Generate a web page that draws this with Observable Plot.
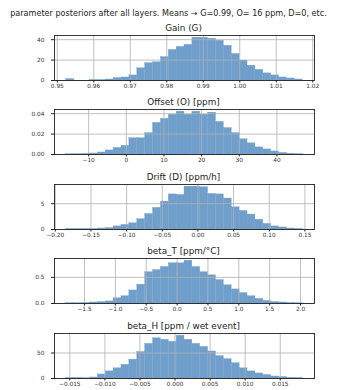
<!DOCTYPE html>
<html><head><meta charset="utf-8">
<script src="https://cdn.jsdelivr.net/npm/d3@7"></script>
<script src="https://cdn.jsdelivr.net/npm/@observablehq/plot@0.6"></script>
<style>
body{margin:0;background:#fff;font-family:"DejaVu Sans",sans-serif;}
#root{position:relative;width:337px;height:390px;overflow:hidden;background:#fff}
.t{position:absolute;left:0;width:337px;text-align:center;white-space:nowrap;color:#222;font-weight:normal;line-height:1;transform:translateY(-50%)}
#root svg{position:absolute;left:0}
</style></head><body><div id="root"></div>
<script>
// ---- data ----
const mainTitle = "parameter posteriors after all layers. Means \u2192 G=0.99, O= 16 ppm, D=0, etc.";
const panelTitles = ["Gain (G)", "Offset (O) [ppm]", "Drift (D) [ppm/h]", "beta_T [ppm/\u00B0C]", "beta_H [ppm / wet event]"];

// histogram ranges (first bin left edge, last bin right edge), 30 bins each
const gainRange = [0.95247, 1.01725];
const offsetRange = [-15.93, 46.84];
const driftRange = [-0.1846, 0.1469];
const betaTRange = [-1.795, 2.035];
const betaHRange = [-0.0155, 0.0182];

// density heights per bin
const gainHeights = [1.5, 0, 0, 0.5, 0.5, 1, 2.5, 3, 5, 12, 17, 18, 23, 30, 33, 35, 42, 42, 41, 39, 34, 26, 19.5, 14.5, 10.5, 7, 5, 3, 2, 1];
const offsetHeights = [0.0002, 0.0003, 0.0006, 0.001, 0.002, 0.004, 0.0065, 0.0085, 0.016, 0.016, 0.021, 0.031, 0.035, 0.039, 0.042, 0.039, 0.042, 0.039, 0.041, 0.032, 0.026, 0.021, 0.015, 0.011, 0.007, 0.005, 0.003, 0.0016, 0.0008, 0.0003];
const driftHeights = [0.1, 0.1, 0.1, 0.1, 0.2, 0.3, 0.6, 0.9, 1.2, 2.0, 3.0, 4.2, 5.4, 6.8, 6.7, 8.3, 8.3, 8.2, 6.9, 6.8, 6.0, 4.3, 3.6, 2.9, 1.9, 1.1, 0.6, 0.4, 0.2, 0.1];
const betaTHeights = [0.005, 0.005, 0.01, 0.02, 0.03, 0.04, 0.1, 0.14, 0.25, 0.36, 0.6, 0.64, 0.7, 0.77, 0.77, 0.82, 0.7, 0.6, 0.54, 0.45, 0.35, 0.27, 0.2, 0.14, 0.09, 0.05, 0.03, 0.02, 0.01, 0.005];
const betaHHeights = [1, 1, 0.5, 2, 8, 14, 20, 27, 37, 52, 68, 79, 76, 72, 84, 76, 68, 62, 53, 44, 38, 30, 20, 14, 10, 7, 4, 3, 1.5, 1];

// tick values and labels
const gainXTicks = [0.95, 0.96, 0.97, 0.98, 0.99, 1.00, 1.01, 1.02];
const gainXLabels = ["0.95", "0.96", "0.97", "0.98", "0.99", "1.00", "1.01", "1.02"];
const gainYTicks = [0, 20, 40];
const gainYLabels = ["0", "20", "40"];

const offsetXTicks = [-10, 0, 10, 20, 30, 40];
const offsetXLabels = ["\u221210", "0", "10", "20", "30", "40"];
const offsetYTicks = [0, 0.02, 0.04];
const offsetYLabels = ["0.00", "0.02", "0.04"];

const driftXTicks = [-0.20, -0.15, -0.10, -0.05, 0.00, 0.05, 0.10, 0.15];
const driftXLabels = ["\u22120.20", "\u22120.15", "\u22120.10", "\u22120.05", "0.00", "0.05", "0.10", "0.15"];
const driftYTicks = [0, 5];
const driftYLabels = ["0", "5"];

const betaTXTicks = [-1.5, -1.0, -0.5, 0.0, 0.5, 1.0, 1.5, 2.0];
const betaTXLabels = ["\u22121.5", "\u22121.0", "\u22120.5", "0.0", "0.5", "1.0", "1.5", "2.0"];
const betaTYTicks = [0, 0.5];
const betaTYLabels = ["0.0", "0.5"];

const betaHXTicks = [-0.015, -0.010, -0.005, 0.000, 0.005, 0.010, 0.015];
const betaHXLabels = ["\u22120.015", "\u22120.010", "\u22120.005", "0.000", "0.005", "0.010", "0.015"];
const betaHYTicks = [0, 50];
const betaHYLabels = ["0", "50"];

// ---- layout / style ----
const W = 337, ML = 54, MR = 23, MT = 2, MB = 22, FH = 45;
const frameTops = [35, 109, 184, 258, 333];
const barColor = "#719fcb";
const gridColor = "#b0b0b0";
const ink = "#222";

const panels = [
  {range: gainRange, h: gainHeights, xt: gainXTicks, xl: gainXLabels, yt: gainYTicks, yl: gainYLabels},
  {range: offsetRange, h: offsetHeights, xt: offsetXTicks, xl: offsetXLabels, yt: offsetYTicks, yl: offsetYLabels},
  {range: driftRange, h: driftHeights, xt: driftXTicks, xl: driftXLabels, yt: driftYTicks, yl: driftYLabels},
  {range: betaTRange, h: betaTHeights, xt: betaTXTicks, xl: betaTXLabels, yt: betaTYTicks, yl: betaTYLabels},
  {range: betaHRange, h: betaHHeights, xt: betaHXTicks, xl: betaHXLabels, yt: betaHYTicks, yl: betaHYLabels}
];

const root = document.getElementById("root");
function addText(str, cy, size) {
  const d = document.createElement("div");
  d.className = "t";
  d.style.top = cy + "px";
  d.style.fontSize = size + "px";
  d.textContent = str;
  root.appendChild(d);
  return d;
}
const mt = addText(mainTitle, 13, 8.1);
mt.style.left = "6px";
mt.style.width = "325px";

panels.forEach((p, idx) => {
  const [lo, hi] = p.range;
  const n = p.h.length;
  const step = (hi - lo) / n;
  const bins = p.h.map((v, i) => ({x1: lo + i * step, x2: lo + (i + 1) * step, h: v}));
  const pad = 0.05 * (hi - lo);
  const ymax = d3.max(p.h) * 1.05;
  const xlab = new Map(p.xt.map((t, i) => [t, p.xl[i]]));
  const ylab = new Map(p.yt.map((t, i) => [t, p.yl[i]]));
  const svg = Plot.plot({
    width: W, height: MT + FH + MB,
    marginLeft: ML, marginRight: MR, marginTop: MT, marginBottom: MB,
    style: {fontFamily: "DejaVu Sans, sans-serif", fontSize: "5.8px", background: "transparent", overflow: "visible", color: ink},
    x: {domain: [lo - pad, hi + pad]},
    y: {domain: [0, ymax]},
    marks: [
      Plot.rectY(bins, {x1: "x1", x2: "x2", y: "h", fill: barColor, stroke: barColor, strokeWidth: 0.3, inset: 0}),
      Plot.gridX(p.xt, {stroke: gridColor, strokeOpacity: 1, strokeWidth: 0.8}),
      Plot.gridY(p.yt, {stroke: gridColor, strokeOpacity: 1, strokeWidth: 0.8}),
      Plot.frame({stroke: ink, strokeWidth: 0.9}),
      Plot.axisX(p.xt, {tickSize: 2.5, tickPadding: 1.2, tickFormat: d => xlab.get(d), label: null, fontSize: 5.8, stroke: ink, fill: "#333"}),
      Plot.axisY(p.yt, {tickSize: 3, tickPadding: 7, tickFormat: d => ylab.get(d), label: null, fontSize: 5.8, stroke: ink, fill: "#333"})
    ]
  });
  svg.style.top = (frameTops[idx] - MT) + "px";
  root.appendChild(svg);
  const tt = addText(panelTitles[idx], frameTops[idx] - 7.5, 8.8);
  tt.style.left = "15px";
});
</script>
</body></html>
